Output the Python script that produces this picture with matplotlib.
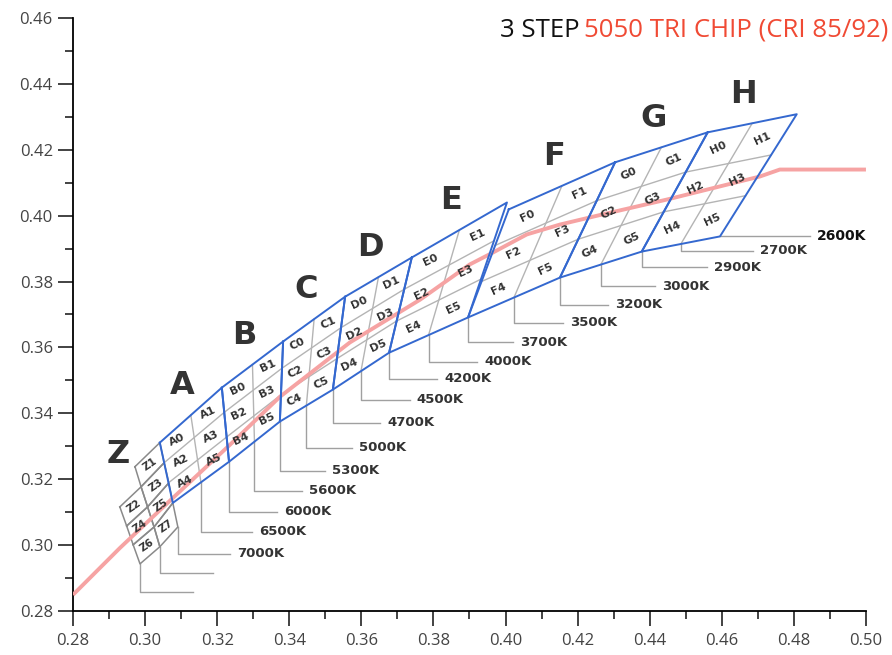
import numpy as np
import matplotlib.pyplot as plt
from matplotlib.ticker import MultipleLocator

# pink curve (black body locus)
locus_x = [0.2800, 0.2930, 0.3077, 0.3236, 0.3374, 0.3568, 0.3763, 0.3901, 0.3965,
           0.4059, 0.4151, 0.4270, 0.4448, 0.4706, 0.4761, 0.5000]
locus_y = [0.2849, 0.2991, 0.3143, 0.3305, 0.3450, 0.3615, 0.3745, 0.3852, 0.3888,
           0.3943, 0.3973, 0.4004, 0.4049, 0.4119, 0.4140, 0.4140]

# bin quadrangles A..H : top-left, top-right, bottom-right, bottom-left
bin_names = ['A', 'B', 'C', 'D', 'E', 'F', 'G', 'H']
bin_tl = [(0.3041, 0.3311), (0.3213, 0.3478), (0.3383, 0.3618), (0.3555, 0.3754),
          (0.3740, 0.3873), (0.4009, 0.4019), (0.4304, 0.4162), (0.4561, 0.4253)]
bin_tr = [(0.3213, 0.3478), (0.3383, 0.3618), (0.3555, 0.3754), (0.3740, 0.3873),
          (0.4004, 0.4040), (0.4304, 0.4162), (0.4561, 0.4253), (0.4808, 0.4308)]
bin_br = [(0.3233, 0.3253), (0.3374, 0.3375), (0.3521, 0.3472), (0.3677, 0.3584),
          (0.3896, 0.3691), (0.4151, 0.3812), (0.4378, 0.3891), (0.4595, 0.3937)]
bin_bl = [(0.3077, 0.3128), (0.3233, 0.3253), (0.3374, 0.3375), (0.3521, 0.3472),
          (0.3677, 0.3584), (0.3896, 0.3691), (0.4151, 0.3812), (0.4378, 0.3891)]

# Z bin lattice (3 columns x 5 rows, first point of left column missing)
z_x = [[np.nan, 0.2930, 0.2949, 0.2967, 0.2986],
       [0.2972, 0.2989, 0.3007, 0.3025, 0.3041],
       [0.3041, 0.3053, 0.3066, 0.3077, 0.3091]]
z_y = [[np.nan, 0.3116, 0.3058, 0.3001, 0.2943],
       [0.3238, 0.3177, 0.3116, 0.3055, 0.2995],
       [0.3311, 0.3250, 0.3189, 0.3128, 0.3055]]
z_cells = ['Z1', 'Z2', 'Z3', 'Z4', 'Z5', 'Z6', 'Z7']
z_cell_idx = [(1, 0), (0, 1), (1, 1), (0, 2), (1, 2), (0, 3), (1, 3)]  # (col, row)

# CCT labels and leader lines
cct_labels = ['', '', '7000K', '6500K', '6000K', '5600K', '5300K', '5000K', '4700K',
              '4500K', '4200K', '4000K', '3700K', '3500K', '3200K', '3000K', '2900K',
              '2700K', '2600K']
label_y = [0.2858, 0.2916, 0.2973, 0.3040, 0.3101, 0.3165, 0.3226, 0.3295, 0.3371,
           0.3441, 0.3505, 0.3557, 0.3615, 0.3675, 0.3730, 0.3785, 0.3843, 0.3894, 0.3937]
label_x_end = [0.3133, 0.3188, 0.3236, 0.3297, 0.3366, 0.3435, 0.3499, 0.3574, 0.3652,
               0.3735, 0.3810, 0.3921, 0.4021, 0.4159, 0.4284, 0.4414, 0.4559, 0.4686, 0.4844]

BLUE = '#3468cf'
GRID = '#b4b4b4'
ZGREY = '#8a8a8a'
PINK = '#f6a3a3'
TXT = '#333333'


def bilerp(tl, tr, br, bl, u, v):
    tl, tr, br, bl = map(np.array, (tl, tr, br, bl))
    top = tl + (tr - tl) * u
    bot = bl + (br - bl) * u
    return top + (bot - top) * v


fig = plt.figure(figsize=(8.92, 6.55), dpi=100)
ax = fig.add_axes([0.0818, 0.0672, 0.889, 0.9053])
ax.set_xlim(0.28, 0.50)
ax.set_ylim(0.28, 0.46)

# pink locus
ax.plot(locus_x, locus_y, color=PINK, lw=2.8, zorder=3, solid_capstyle='butt')

origins = []
# Z bins
z_x = np.array(z_x)
z_y = np.array(z_y)
for (c, r), name in zip(z_cell_idx, z_cells):
    px = [z_x[c, r], z_x[c + 1, r], z_x[c + 1, r + 1], z_x[c, r + 1], z_x[c, r]]
    py = [z_y[c, r], z_y[c + 1, r], z_y[c + 1, r + 1], z_y[c, r + 1], z_y[c, r]]
    ax.plot(px, py, color=ZGREY, lw=1.1, zorder=2)
    cx, cy = np.mean(px[:4]), np.mean(py[:4])
    ax.text(cx, cy, name, fontsize=7.5, fontweight='bold', color=TXT, rotation=35,
            ha='center', va='center', rotation_mode='anchor', zorder=6)
for c in range(3):
    origins.append((z_x[c, 4], z_y[c, 4]))
ax.text(0.2925, 0.3275, 'Z', fontsize=23, fontweight='bold', color=TXT,
        ha='center', va='center', zorder=6)

# A..H bins
for i, name in enumerate(bin_names):
    tl, tr, br, bl = bin_tl[i], bin_tr[i], bin_br[i], bin_bl[i]
    # inner grey lines
    for v in (1 / 3, 2 / 3):
        p0 = bilerp(tl, tr, br, bl, 0, v)
        p1 = bilerp(tl, tr, br, bl, 1, v)
        ax.plot([p0[0], p1[0]], [p0[1], p1[1]], color=GRID, lw=1.0, zorder=2)
    p0 = bilerp(tl, tr, br, bl, 0.5, 0)
    p1 = bilerp(tl, tr, br, bl, 0.5, 1)
    ax.plot([p0[0], p1[0]], [p0[1], p1[1]], color=GRID, lw=1.0, zorder=2)
    # blue outline
    ox = [tl[0], tr[0], br[0], bl[0], tl[0]]
    oy = [tl[1], tr[1], br[1], bl[1], tl[1]]
    ax.plot(ox, oy, color=BLUE, lw=1.4, zorder=4)
    # cell names
    for r in range(3):
        for c in range(2):
            p = bilerp(tl, tr, br, bl, 0.25 + 0.5 * c, (r + 0.5) / 3)
            ax.text(p[0], p[1], '%s%d' % (name, 2 * r + c), fontsize=8, fontweight='bold',
                    color=TXT, rotation=25, ha='center', va='center',
                    rotation_mode='anchor', zorder=6)
    # group letter
    top_mid = bilerp(tl, tr, br, bl, 0.5, 0)
    ax.annotate(name, xy=(top_mid[0], top_mid[1]), xytext=(-6, 21),
                textcoords='offset points', fontsize=23, fontweight='bold', color=TXT,
                ha='center', va='center', zorder=6)
    origins.append(tuple(p1))
    origins.append(tuple(br))

# leader lines + cct labels
for (ox0, oy0), lab, ly, lx in zip(origins, cct_labels, label_y, label_x_end):
    ax.plot([ox0, ox0, lx], [oy0, ly, ly], color='#a0a0a0', lw=1.0, zorder=1)
    if lab:
        bold_last = lab == '2600K'
        ax.annotate(lab, xy=(lx, ly), xytext=(5, 0), textcoords='offset points',
                    fontsize=9.5 if not bold_last else 10, fontweight='bold',
                    color='#111111' if bold_last else TXT, ha='left', va='center')

# axes styling
for s in ('top', 'right'):
    ax.spines[s].set_visible(False)
for s in ('left', 'bottom'):
    ax.spines[s].set_linewidth(1.3)
ax.xaxis.set_major_locator(MultipleLocator(0.02))
ax.xaxis.set_minor_locator(MultipleLocator(0.01))
ax.yaxis.set_major_locator(MultipleLocator(0.02))
ax.yaxis.set_minor_locator(MultipleLocator(0.01))
ax.xaxis.set_major_formatter(plt.FuncFormatter(lambda v, p: '%.2f' % v))
ax.yaxis.set_major_formatter(plt.FuncFormatter(lambda v, p: '%.2f' % v))
ax.tick_params(which='major', length=11, width=1.2, direction='out', colors='#222222',
               labelcolor='#444444', labelsize=12)
ax.tick_params(which='minor', length=5.5, width=1.2, direction='out', colors='#222222')
ax.tick_params(axis='x', pad=5)
for lab in ax.get_xticklabels() + ax.get_yticklabels():
    lab.set_family(['Open Sans', 'DejaVu Sans'])

# title in two colours
t_red = fig.text(0.9955, 0.954, '5050 TRI CHIP (CRI 85/92)', color='#f04a34',
                 fontsize=18.5, ha='right', va='center', family=['Open Sans', 'DejaVu Sans'])
fig.canvas.draw()
bb = t_red.get_window_extent()
fig.text(bb.x0 / fig.bbox.width - 0.005, 0.954, '3 STEP', color='#111111', fontsize=18.5,
         ha='right', va='center', family=['Open Sans', 'DejaVu Sans'])

fig.savefig('out.png', dpi=100)
